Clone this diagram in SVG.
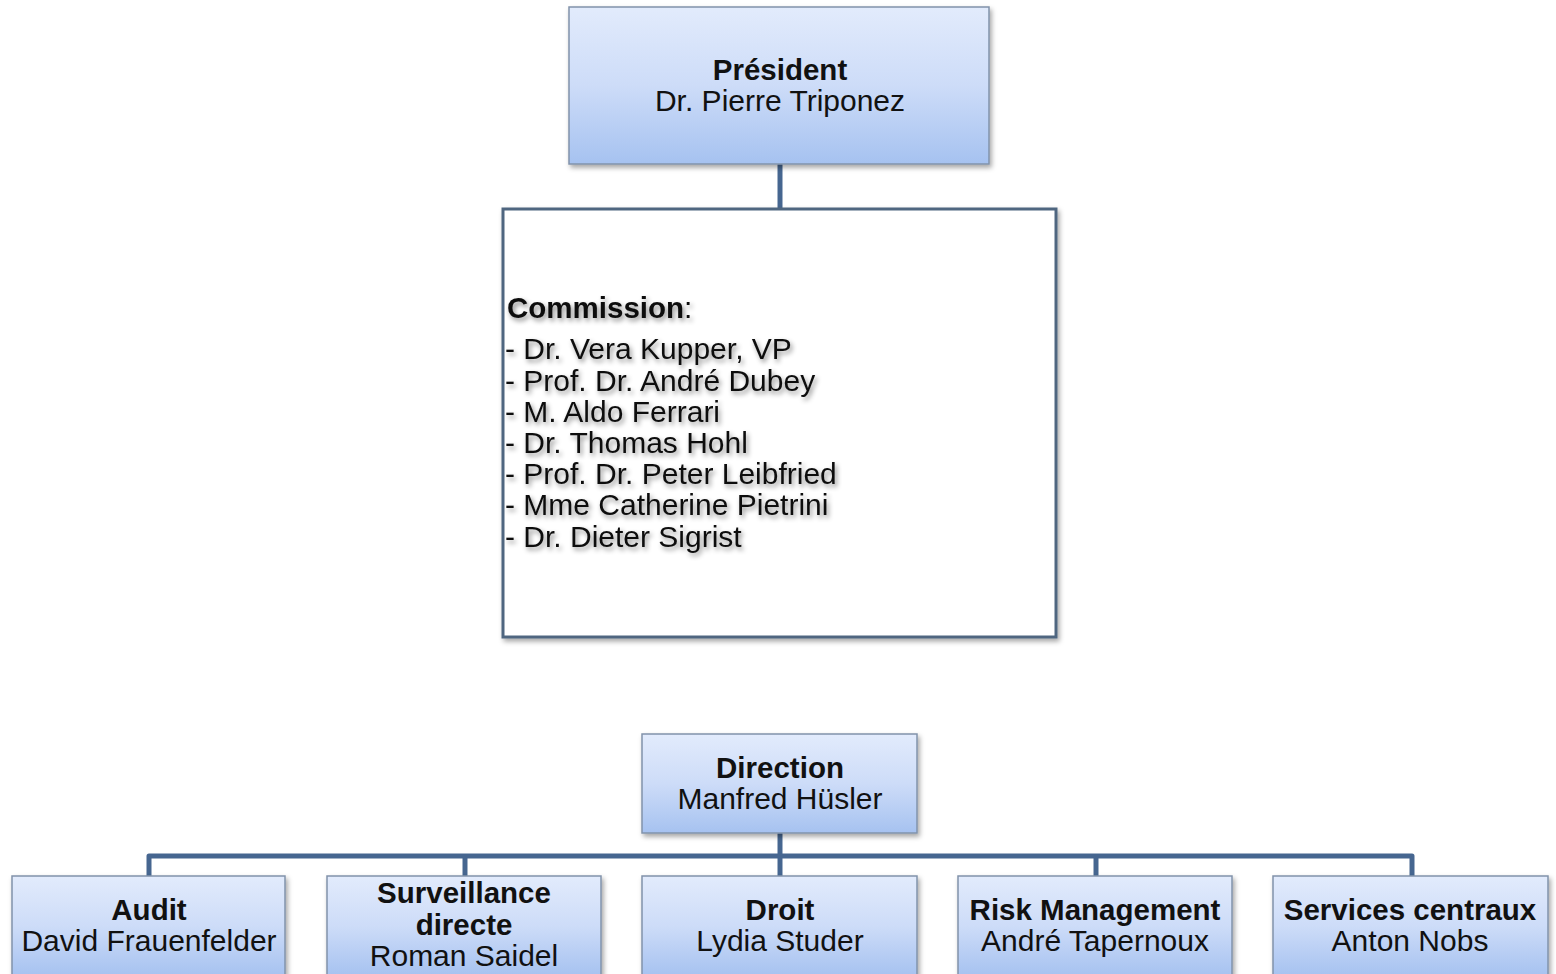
<svg xmlns="http://www.w3.org/2000/svg" width="1556" height="974" viewBox="0 0 1556 974">
<defs>
<linearGradient id="g" x1="0" y1="0" x2="0" y2="1">
<stop offset="0" stop-color="#e2ebfc"/>
<stop offset="0.5" stop-color="#cddcf8"/>
<stop offset="1" stop-color="#a6c2f0"/>
</linearGradient>
<filter id="sh" x="-10%" y="-10%" width="125%" height="130%">
<feDropShadow dx="2" dy="3" stdDeviation="2.5" flood-color="#000" flood-opacity="0.35"/>
</filter>
<filter id="tsh" x="-10%" y="-30%" width="125%" height="170%">
<feDropShadow dx="2" dy="3" stdDeviation="2.5" flood-color="#000" flood-opacity="0.45"/>
</filter>
</defs>
<style>
.box{fill:url(#g);stroke:#8193ab;stroke-width:1.5;filter:url(#sh)}
.t{font-family:"Liberation Sans",Arial,sans-serif;font-size:30px;fill:#111;text-anchor:middle}
.b{font-weight:bold;font-size:29.5px}
.c{stroke:#466690;stroke-width:5;fill:none;stroke-linejoin:round;stroke-linecap:butt}
.l{font-family:"Liberation Sans",Arial,sans-serif;font-size:30px;fill:#111;filter:url(#tsh)}
</style>
<rect width="1556" height="974" fill="#fff"/>
<g id="connectors">
<line class="c" x1="780" y1="164" x2="780" y2="209"/>
<line class="c" x1="780" y1="833" x2="780" y2="876"/>
<path class="c" d="M149,876 V856 H1412 V876"/>
<line class="c" x1="465" y1="856" x2="465" y2="876"/>
<line class="c" x1="1096" y1="856" x2="1096" y2="876"/>
</g>
<g id="president">
<rect class="box" x="569" y="7" width="420" height="157"/>
<text class="t b" x="780" y="80">Président</text>
<text class="t" x="780" y="111">Dr. Pierre Triponez</text>
</g>
<g id="commission">
<rect x="503" y="209" width="553" height="428" fill="#fff" stroke="#4f6680" stroke-width="3" filter="url(#sh)"/>
<text class="l" x="507" y="318"><tspan font-weight="bold" font-size="29.5">Commission</tspan>:</text>
<text class="l" x="505" y="359">- Dr. Vera Kupper, VP</text>
<text class="l" x="505" y="391">- Prof. Dr. André Dubey</text>
<text class="l" x="505" y="422">- M. Aldo Ferrari</text>
<text class="l" x="505" y="453">- Dr. Thomas Hohl</text>
<text class="l" x="505" y="484">- Prof. Dr. Peter Leibfried</text>
<text class="l" x="505" y="515">- Mme Catherine Pietrini</text>
<text class="l" x="505" y="547">- Dr. Dieter Sigrist</text>
</g>
<g id="direction">
<rect class="box" x="642" y="734" width="275" height="99"/>
<text class="t b" x="780" y="778">Direction</text>
<text class="t" x="780" y="809">Manfred Hüsler</text>
</g>
<g id="audit">
<rect class="box" x="12" y="876" width="273" height="100"/>
<text class="t b" x="149" y="920">Audit</text>
<text class="t" x="149" y="951">David Frauenfelder</text>
</g>
<g id="surveillance">
<rect class="box" x="327" y="876" width="274" height="100"/>
<text class="t b" x="464" y="903">Surveillance</text>
<text class="t b" x="464" y="935">directe</text>
<text class="t" x="464" y="966">Roman Saidel</text>
</g>
<g id="droit">
<rect class="box" x="642" y="876" width="275" height="100"/>
<text class="t b" x="780" y="920">Droit</text>
<text class="t" x="780" y="951">Lydia Studer</text>
</g>
<g id="risk">
<rect class="box" x="958" y="876" width="274" height="100"/>
<text class="t b" x="1095" y="920">Risk Management</text>
<text class="t" x="1095" y="951">André Tapernoux</text>
</g>
<g id="services">
<rect class="box" x="1273" y="876" width="275" height="100"/>
<text class="t b" x="1410" y="920">Services centraux</text>
<text class="t" x="1410" y="951">Anton Nobs</text>
</g>
</svg>
